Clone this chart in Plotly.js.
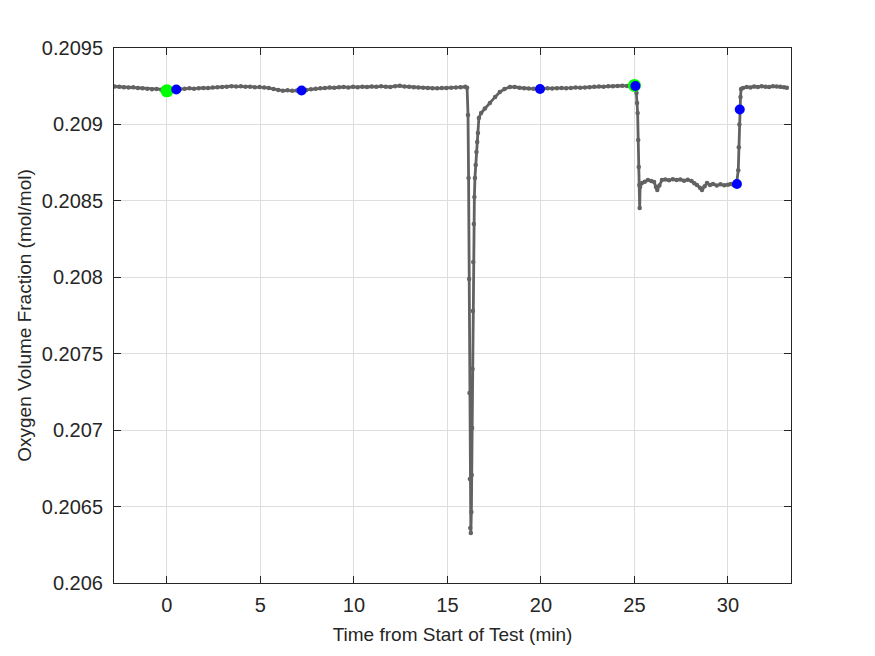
<!DOCTYPE html>
<html>
<head>
<meta charset="utf-8">
<script src="https://cdn.plot.ly/plotly-3.0.1.min.js"></script>
<style>html,body{margin:0;padding:0;background:#fff;}#chart{width:875px;height:656px;}</style>
</head>
<body>
<div id="chart"></div>
<script>
// Baseline before the first dip (min, mol/mol)
var timeA = [-2.80,-2.55,-2.30,-2.05,-1.80,-1.55,-1.30,-1.05,-0.80,-0.55,-0.30,-0.05,0.20,0.45,0.70,0.95,1.20,1.45,1.70,1.95,2.20,2.45,2.70,2.95,3.20,3.45,3.70,3.95,4.20,4.45,4.70,4.95,5.20,5.45,5.70,5.95,6.20,6.45,6.70,6.95,7.20,7.45,7.70,7.95,8.20,8.45,8.70,8.95,9.20,9.45,9.70,9.95,10.20,10.45,10.70,10.95,11.20,11.45,11.70,11.95,12.20,12.45,12.70,12.95,13.20,13.45,13.70,13.95,14.20,14.45,14.70,14.95,15.20,15.45,15.70,15.95];
var o2A = [0.209248,0.209246,0.209244,0.209241,0.209243,0.209238,0.209236,0.209233,0.209230,0.209232,0.209227,0.209224,0.209226,0.209228,0.209231,0.209233,0.209236,0.209234,0.209237,0.209239,0.209238,0.209241,0.209243,0.209245,0.209247,0.209250,0.209248,0.209249,0.209246,0.209247,0.209244,0.209245,0.209242,0.209238,0.209232,0.209225,0.209221,0.209223,0.209220,0.209222,0.209223,0.209226,0.209230,0.209233,0.209236,0.209238,0.209241,0.209240,0.209243,0.209245,0.209242,0.209246,0.209244,0.209247,0.209245,0.209248,0.209246,0.209249,0.209247,0.209245,0.209250,0.209253,0.209248,0.209246,0.209244,0.209242,0.209240,0.209239,0.209237,0.209236,0.209238,0.209239,0.209240,0.209242,0.209243,0.209246];
// First dip and recovery
var timeB = [16.05,16.10,16.13,16.16,16.18,16.20,16.22,16.25,16.28,16.30,16.32,16.34,16.36,16.38,16.41,16.44,16.47,16.51,16.55,16.59,16.63,16.68,16.80,17.00,17.27,17.55,17.80,18.05,18.34];
var o2B = [0.209240,0.209062,0.208650,0.207989,0.207243,0.206680,0.206360,0.206327,0.206465,0.206707,0.207014,0.207400,0.207779,0.208100,0.208349,0.208525,0.208650,0.208735,0.208820,0.208885,0.208944,0.209042,0.209075,0.209105,0.209140,0.209180,0.209212,0.209232,0.209245];
// Baseline between the events
var timeC = [18.60,18.85,19.10,19.35,19.60,19.85,20.10,20.35,20.60,20.85,21.10,21.35,21.60,21.85,22.10,22.35,22.60,22.85,23.10,23.35,23.60,23.85,24.10,24.35,24.60,24.85,25.00];
var o2C = [0.209245,0.209240,0.209236,0.209235,0.209233,0.209232,0.209234,0.209236,0.209235,0.209237,0.209238,0.209236,0.209239,0.209241,0.209240,0.209242,0.209244,0.209246,0.209248,0.209247,0.209250,0.209249,0.209251,0.209253,0.209252,0.209254,0.209255];
// Step down, plateau and step up
var timeD = [25.08,25.11,25.14,25.17,25.20,25.23,25.26,25.28,25.30,25.40,25.55,25.72,25.90,26.05,26.15,26.22,26.33,26.47,26.65,26.85,27.05,27.25,27.45,27.65,27.85,28.05,28.20,28.34,28.50,28.61,28.75,28.88,29.04,29.20,29.40,29.60,29.80,30.00,30.15,30.30,30.45,30.55,30.58,30.61,30.64,30.67,30.70];
var o2D = [0.209245,0.209206,0.209140,0.209075,0.208898,0.208722,0.208604,0.208453,0.208591,0.208617,0.208625,0.208637,0.208630,0.208623,0.208590,0.208571,0.208600,0.208637,0.208640,0.208634,0.208642,0.208636,0.208640,0.208632,0.208638,0.208630,0.208615,0.208604,0.208585,0.208571,0.208595,0.208617,0.208604,0.208610,0.208600,0.208608,0.208602,0.208606,0.208610,0.208604,0.208604,0.208700,0.208850,0.209000,0.209101,0.209180,0.209232];
// Final baseline
var timeE = [30.80,31.00,31.20,31.40,31.60,31.80,32.00,32.20,32.40,32.60,32.80,33.00,33.15];
var o2E = [0.209238,0.209245,0.209242,0.209248,0.209245,0.209250,0.209247,0.209245,0.209250,0.209248,0.209246,0.209244,0.209240];
// Event markers
var greenTime = [0.0, 25.0];
var greenO2 = [0.209220, 0.209255];
var blueTime = [0.5, 7.2, 19.95, 25.05, 30.48, 30.63];
var blueO2 = [0.209228, 0.209222, 0.209232, 0.209251, 0.208610, 0.209098];
// Ticks
var xTicks = [0, 5, 10, 15, 20, 25, 30];
var yTicks = [0.206, 0.2065, 0.207, 0.2075, 0.208, 0.2085, 0.209, 0.2095];
var yTickText = ["0.206", "0.2065", "0.207", "0.2075", "0.208", "0.2085", "0.209", "0.2095"];

var allTime = timeA.concat(timeB, timeC, timeD, timeE);
var allO2 = o2A.concat(o2B, o2C, o2D, o2E);

var traces = [
  {x: allTime, y: allO2, type: 'scatter', mode: 'lines+markers',
   line: {color: '#626262', width: 2.8}, marker: {color: '#626262', size: 4.5}, hoverinfo: 'skip'},
  {x: greenTime, y: greenO2, type: 'scatter', mode: 'markers',
   marker: {color: '#00ff00', size: 13}},
  {x: blueTime, y: blueO2, type: 'scatter', mode: 'markers',
   marker: {color: '#0000ff', size: 10}}
];

var fontFam = 'Liberation Sans, Arial, sans-serif';
var axisCommon = {
  showline: true, mirror: 'ticks', linecolor: '#262626', linewidth: 1,
  ticks: 'inside', ticklen: 7, tickcolor: '#262626', tickwidth: 1,
  showgrid: true, gridcolor: '#dedede', gridwidth: 1, zeroline: false,
  tickfont: {family: fontFam, size: 20, color: '#262626'}
};

var layout = {
  width: 875, height: 656,
  margin: {l: 114, r: 84, t: 48, b: 73},
  paper_bgcolor: '#ffffff', plot_bgcolor: '#ffffff',
  showlegend: false,
  xaxis: Object.assign({}, axisCommon, {
    range: [-2.83, 33.37], tickvals: xTicks, ticktext: xTicks.map(String),
    ticklabelstandoff: 4,
    title: {text: 'Time from Start of Test (min)', standoff: 12,
            font: {family: fontFam, size: 19, color: '#262626'}}
  }),
  yaxis: Object.assign({}, axisCommon, {
    range: [0.206, 0.2095], tickvals: yTicks, ticktext: yTickText,
    ticklabelstandoff: 6,
    title: {text: 'Oxygen Volume Fraction (mol/mol)', standoff: 5,
            font: {family: fontFam, size: 19, color: '#262626'}}
  })
};

Plotly.newPlot('chart', traces, layout, {staticPlot: true, displayModeBar: false});
</script>
</body>
</html>
